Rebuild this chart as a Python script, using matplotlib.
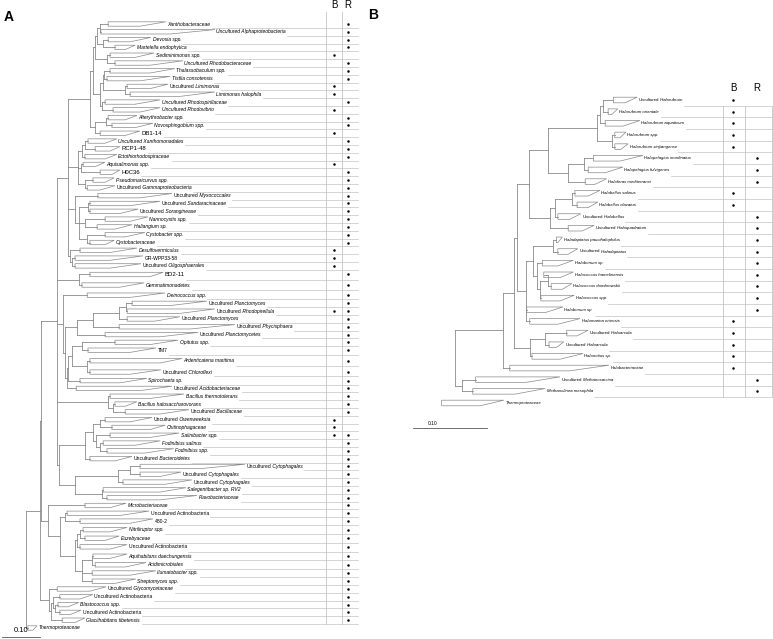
import re
import numpy as np
import matplotlib
matplotlib.use("Agg")
import matplotlib.pyplot as plt
from matplotlib.patches import Polygon

plt.rcParams['font.family'] = ['Liberation Sans', 'DejaVu Sans']

# ---------------- Panel A (Bacteria) ----------------
a_names = [
    "Xanthobacteraceae", "Uncultured Alphaproteobacteria", "Devosia spp.", "Martelella endophytica",
    "Sediminimonas spp.", "Uncultured Rhodobacteraceae", "Thalassobaculum spp.", "Tistlia consotensis",
    "Uncultured Limimonas", "Limimonas halophila", "Uncultured Rhodospirillaceae", "Uncultured Rhodovibrio",
    "Alterythrobacter spp.", "Novosphingobium spp.", "DB1-14", "Uncultured Xanthomonadales",
    "RCP1-48", "Ectothiorhodospiraceae", "Aquisalimonas spp.", "H0C36", "Pseudomaricurvus spp.",
    "Uncultured Gammaproteobacteria", "Uncultured Myxococcales", "Uncultured Sandaracinaceae",
    "Uncultured Soranginease", "Nannocystis spp.", "Haliangium sp.", "Cystobacter spp.",
    "Cystobacteraceae", "Desulfovermiculus", "GR-WPP33-58", "Uncultured Oligosphaerales",
    "BD2-11", "Gemmatimonadetes", "Deinococcus spp.", "Uncultured Planctomyces",
    "Uncultured Rhodopirellula", "Uncultured Planctomyces", "Uncultured Phycisphaera",
    "Uncultured Planctomycetes", "Opitutus spp.", "TM7", "Ardenticatena maritima",
    "Uncultured Chloroflexi", "Spirochaeta sp.", "Uncultured Acidobacteriaceae",
    "Bacillus thermotolerans", "Bacillus halosaccharovorans", "Uncultured Bacillaceae",
    "Uncultured Owenweeksia", "Chitinophagaceae", "Salinibacter spp.", "Fodinibius salinus",
    "Fodinibius spp.", "Uncultured Bacteroidetes", "Uncultured Cytophagales",
    "Uncultured Cytophagales", "Uncultured Cytophagales", "Salegentibacter sp. RV2",
    "Flavobacteriaceae", "Microbacteriaceae", "Uncultured Actinobacteria", "480-2",
    "Nitriliruptor spp.", "Euzebyaceae", "Uncultured Actinobacteria", "Aquihabitans daechungensis",
    "Acidimicrobiales", "Ilumatobacter spp.", "Streptomyces spp.", "Uncultured Glycomycetaceae",
    "Uncultured Actinobacteria", "Blastococcus spp.", "Uncultured Actinobacteria",
    "Glaciihabitans tibetensis", "Thermoproteaceae",
]
# i = italic, u = "Uncultured" upright + italic taxon, n = upright, N = upright larger
a_style = list("iiiiiiii" "uiiiii" "N" "i" "N" "ii" "N" "i" "uuuu" "iiiii" "n" "u" "N" "ii"
               "uuuuu" "i" "n" "i" "u" "i" "u" "ii" "uu" "iiii" "uuuu" "iii" "nn" "ii" "n"
               "iiii" "u" "n" "i" "n" "ii")
a_b = [0, 0, 0, 0, 1, 0, 0, 0, 1, 1, 0, 1, 0, 0, 1, 0, 0, 0, 1, 0, 0, 0, 0, 0, 0, 0, 0, 0, 0, 1,
       1, 1, 0, 0, 0, 0, 1, 0, 0, 0, 0, 0, 0, 0, 0, 0, 0, 0, 0, 1, 1, 1, 0, 0, 0, 0, 0, 0, 0, 0,
       0, 0, 0, 0, 0, 0, 0, 0, 0, 0, 0, 0, 0, 0, 0, 0]
a_r = [1, 1, 1, 1, 0, 1, 1, 1, 0, 0, 1, 0, 1, 1, 0, 1, 1, 1, 0, 1, 1, 1, 1, 1, 1, 1, 1, 1, 1, 0,
       0, 0, 1, 1, 1, 1, 1, 1, 1, 1, 1, 1, 1, 1, 1, 1, 1, 1, 1, 0, 0, 1, 1, 1, 1, 1, 1, 1, 1, 1,
       1, 1, 1, 1, 1, 1, 1, 1, 1, 1, 1, 1, 1, 1, 1, 0]
# collapsed clades: depth of clade root, shortest tip, longest tip (substitutions/site)
a_base = [0.216, 0.197, 0.216, 0.234, 0.221, 0.234, 0.221, 0.213, 0.266, 0.274, 0.208, 0.229,
          0.216, 0.226, 0.195, 0.163, 0.182, 0.155, 0.150, 0.195, 0.176, 0.161, 0.189, 0.168,
          0.168, 0.208, 0.187, 0.208, 0.168, 0.142, 0.129, 0.129, 0.168, 0.147, 0.161, 0.279,
          0.266, 0.266, 0.245, 0.208, 0.234, 0.163, 0.168, 0.168, 0.142, 0.132, 0.221, 0.234,
          0.261, 0.208, 0.226, 0.221, 0.203, 0.213, 0.168, 0.300, 0.300, 0.255, 0.203, 0.213,
          0.155, 0.108, 0.142, 0.150, 0.155, 0.142, 0.176, 0.182, 0.174, 0.174, 0.082, 0.089,
          0.084, 0.089, 0.095, 0.005]
a_tmin = [0.300, 0.379, 0.274, 0.261, 0.287, 0.326, 0.326, 0.300, 0.326, 0.405, 0.287, 0.300,
          0.261, 0.287, 0.261, 0.208, 0.221, 0.208, 0.182, 0.226, 0.208, 0.195, 0.300, 0.274,
          0.247, 0.274, 0.234, 0.261, 0.208, 0.221, 0.221, 0.221, 0.326, 0.247, 0.274, 0.379,
          0.405, 0.339, 0.432, 0.353, 0.326, 0.274, 0.353, 0.274, 0.247, 0.300, 0.326, 0.261,
          0.353, 0.274, 0.326, 0.326, 0.287, 0.313, 0.234, 0.458, 0.353, 0.366, 0.353, 0.353,
          0.221, 0.247, 0.274, 0.221, 0.208, 0.221, 0.221, 0.261, 0.274, 0.234, 0.168, 0.142,
          0.111, 0.116, 0.129, 0.018]
a_tmax = [0.368, 0.497, 0.329, 0.287, 0.337, 0.413, 0.392, 0.379, 0.374, 0.497, 0.353, 0.353,
          0.292, 0.334, 0.300, 0.239, 0.247, 0.239, 0.208, 0.247, 0.232, 0.234, 0.384, 0.353,
          0.295, 0.321, 0.279, 0.313, 0.232, 0.292, 0.308, 0.303, 0.361, 0.311, 0.366, 0.476,
          0.497, 0.405, 0.550, 0.453, 0.400, 0.342, 0.411, 0.355, 0.318, 0.384, 0.416, 0.292,
          0.429, 0.332, 0.366, 0.403, 0.353, 0.389, 0.279, 0.576, 0.408, 0.437, 0.421, 0.450,
          0.263, 0.324, 0.334, 0.266, 0.245, 0.266, 0.266, 0.316, 0.342, 0.289, 0.211, 0.176,
          0.139, 0.145, 0.155, 0.029]
a_rowh = [1] * 32 + [1.2, 1.5, 1.1] + [1] * 7 + [1.7, 1.2] + [1] * 19 + [1.2, 1, 1.2, 1.2, 1, 1.1] + [1] * 7
# topology: leaf numbers index the lists above, number after ")" = node depth
a_tree = ("((((((((((0,1)0.195,(2,3)0.203)0.187,(4,5)0.213)0.182,(((6,7)0.205,(8,9)0.261)0.203,"
          "(10,11)0.200)0.195)0.176,((12,13)0.211,14)0.182)0.168,"
          "(((15,16)0.155,17)0.147,(18,19)0.145,(20,21)0.155)0.137,"
          "(22,((23,24)0.163,(25,26)0.155,(27,28)0.161)0.139)0.129,"
          "(29,(30,31)0.121)0.116)0.111,"
          "(32,33)0.139,"
          "(34,(((((35,36)0.263,37)0.245,38)0.176,39)0.134,((((40,41)0.147,(42,43)0.161)0.121,44)0.111,45)0.108)0.103)0.097,"
          "(46,(47,48)0.229)0.216,"
          "((((49,50)0.195,(51,(52,53)0.195)0.184)0.176,54)0.155,(((55,56)0.274,57)0.242,(58,59)0.200)0.129)0.087)0.082,"
          "(60,((61,62)0.103,(((63,64)0.142,65)0.134,((66,67)0.174,68,69)0.147)0.129)0.089)0.058)0.039,"
          "(70,((71,(72,73)0.076)0.071,74)0.066)0.061)0.037,75)0.0")

# ---------------- Panel B (Archaea) ----------------
b_names = [
    "Uncultured Halorubrum", "Halorubrum orientale", "Halorubrum aquaticum", "Halorubrum spp.",
    "Halorubrum xinjiangense", "Halopelagius inordinatus", "Halopelagius fulvigenes",
    "Haloferax mediterranei", "Halobellus salinus", "Halobellus clavatus", "Uncultured Halobellus",
    "Uncultured Haloquadratum", "Haladaptatus paucihalophilus", "Uncultured Haladaptatus",
    "Halobonum sp.", "Halococcus hamelinensis", "Halococcus dombrowskii", "Halococcus spp.",
    "Halobonum sp.", "Halomarina oriensis", "Uncultured Haloarcula", "Uncultured Haloarcula",
    "Halonotius sp.", "Halobacteriaceae", "Uncultured Methanosarcina", "Methanolinea mesophila",
    "Thermoproteaceae",
]
b_style = list("uiiiiiiiii" "uu" "i" "u" "iiiiii" "uu" "ii" "u" "ii")
b_b = [1, 1, 1, 1, 1, 0, 0, 0, 1, 1, 0, 0, 0, 0, 0, 0, 0, 0, 0, 1, 1, 1, 1, 1, 0, 0, 0]
b_r = [0, 0, 0, 0, 0, 1, 1, 1, 0, 0, 1, 1, 1, 1, 1, 1, 1, 1, 1, 0, 0, 0, 0, 0, 1, 1, 0]
b_base = [0.268, 0.261, 0.257, 0.270, 0.270, 0.241, 0.234, 0.230, 0.216, 0.219, 0.193, 0.207,
          0.191, 0.193, 0.172, 0.174, 0.184, 0.170, 0.151, 0.155, 0.205, 0.181, 0.158, 0.128,
          0.082, 0.078, 0.036]
b_tmin = [0.284, 0.266, 0.281, 0.277, 0.278, 0.277, 0.257, 0.243, 0.234, 0.234, 0.209, 0.226,
          0.193, 0.207, 0.193, 0.196, 0.199, 0.196, 0.176, 0.193, 0.219, 0.191, 0.196, 0.209,
          0.149, 0.135, 0.088]
b_tmax = [0.300, 0.274, 0.304, 0.285, 0.288, 0.308, 0.281, 0.259, 0.250, 0.247, 0.224, 0.242,
          0.199, 0.220, 0.214, 0.214, 0.212, 0.215, 0.200, 0.223, 0.234, 0.201, 0.227, 0.262,
          0.196, 0.176, 0.120]
b_rowh = [1] * 27
b_tree = ("(((((((((0,1)0.254,2)0.250,(3,4)0.266)0.246,((5,6)0.228,7)0.207)0.180,"
          "(((8,9)0.212,10)0.189,11)0.182)0.154,"
          "(((12,13)0.186,(14,((15,16)0.180,17)0.169)0.165)0.159,18,19)0.150)0.138,"
          "((20,21)0.176,22)0.155)0.134,23)0.119,(24,25)0.064)0.054,26)0.0")

W, H = 773, 639
TREE_C = "#8a8a8a"
GRID_C = "#c4c4c4"


def parse_tree(s):
    s = s.replace(" ", "")
    pos = 0

    def node():
        nonlocal pos
        if s[pos] == "(":
            pos += 1
            kids = []
            while True:
                kids.append(node())
                ch = s[pos]
                pos += 1
                if ch == ")":
                    break
            m = re.match(r"[0-9.]+", s[pos:])
            pos += m.end()
            return (float(m.group()), kids)
        m = re.match(r"\d+", s[pos:])
        pos += m.end()
        return int(m.group())

    return node()


def draw_clade(ax, n, base, ys):
    if isinstance(n, int):
        return base[n], ys[n]
    d, kids = n
    pts = [draw_clade(ax, k, base, ys) for k in kids]
    for x, y in pts:
        ax.plot([d, x], [y, y], color=TREE_C, lw=0.6)
    ax.plot([d, d], [pts[0][1], pts[-1][1]], color=TREE_C, lw=0.6)
    return d, (pts[0][1] + pts[-1][1]) / 2


def put_label(ax, x, y, name, style, fs):
    if style == "u" and name.startswith("Uncultured "):
        t = ax.text(x, y, "Uncultured", fontsize=fs, va="center", ha="left")
        return ax.annotate(" " + name[11:], xy=(1, 0), xycoords=t, va="bottom", ha="left",
                           fontsize=fs, style="italic")
    if style == "N":
        return ax.text(x, y, name, fontsize=fs * 1.2, va="center", ha="left")
    if style == "n":
        return ax.text(x, y, name, fontsize=fs, va="center", ha="left")
    return ax.text(x, y, name, fontsize=fs, va="center", ha="left", style="italic")


def panel(fig, root_px, px_per_unit, names, styles, bflag, rflag, base, tmin, tmax, rowh,
          tree, y_first, y_last, half_h, fs, cols, right, header_y, col_top, scale_y, scale_x0):
    ax = fig.add_axes([0, 0, 1, 1])
    ax.set_xlim(-root_px / px_per_unit, (W - root_px) / px_per_unit)
    ax.set_ylim(H, 0)
    ax.axis("off")
    h = np.asarray(rowh, float)
    c = np.cumsum(h) - h / 2
    ys = y_first + (c - c[0]) * (y_last - y_first) / (c[-1] - c[0])

    draw_clade(ax, parse_tree(tree), base, ys)
    pad = 1.5 / px_per_unit
    labels = []
    for i, nm in enumerate(names):
        y = ys[i]
        ax.add_patch(Polygon([(base[i], y - half_h), (tmax[i], y - half_h),
                              (tmin[i], y + half_h), (base[i], y + half_h)],
                             closed=True, fill=False, edgecolor=TREE_C, lw=0.5))
        labels.append(put_label(ax, tmax[i] + pad, y, nm, styles[i], fs))
        if bflag[i]:
            ax.plot(cols[1], y, "o", color="black", ms=1.8, mew=0)
        if rflag[i]:
            ax.plot(cols[3], y, "o", color="black", ms=1.8, mew=0)

    ax.text(cols[1], header_y, "B", fontsize=7, ha="center", va="center")
    ax.text(cols[3], header_y, "R", fontsize=7, ha="center", va="center")

    fig.canvas.draw()
    inv = ax.transData.inverted()
    seps = []
    for i in range(len(names) - 1):
        ysep = (ys[i] + ys[i + 1]) / 2
        xe = inv.transform((labels[i].get_window_extent().x1, 0))[0]
        ax.plot([xe + pad, right], [ysep, ysep], color=GRID_C, lw=0.5)
        seps.append(ysep)
    top = col_top if col_top is not None else seps[0]
    for x in (cols[0], cols[2]):
        ax.plot([x, x], [top, seps[-1]], color=GRID_C, lw=0.6)

    # scale bar
    ax.plot([scale_x0, scale_x0 + 0.10], [scale_y, scale_y], color="#555555", lw=0.6)
    return ax, ys, seps


fig = plt.figure(figsize=(W / 100, H / 100), dpi=100)

# panel A: root at x=26 px, 380 px per substitution/site
axA, ysA, sepA = panel(fig, 26, 380, a_names, a_style, a_b, a_r, a_base, a_tmin, a_tmax, a_rowh,
                       a_tree, 24, 628, 2.2, 3.6, (0.789, 0.811, 0.832, 0.847), 0.874,
                       5, 12, 637, -0.063)
axA.text(-0.063 + 0.05, 634, "0.10", fontsize=5.5, ha="center", va="bottom")

# panel B: root at x=415 px, 740 px per substitution/site
axB, ysB, sepB = panel(fig, 415, 740, b_names, b_style, b_b, b_r, b_base, b_tmin, b_tmax, b_rowh,
                       b_tree, 100, 403, 2.8, 3.1, (0.416, 0.430, 0.446, 0.462), 0.482,
                       88, None, 428, -0.003)
axB.text(0.024, 426, "0.10", fontsize=3.5, ha="center", va="bottom")
axB.plot([0.482, 0.482], [sepB[0], sepB[-1]], color=GRID_C, lw=0.6)

fig.text(9 / W, 1 - 17 / H, "A", fontsize=10, fontweight="bold", ha="center", va="center")
fig.text(373 / W, 1 - 15 / H, "B", fontsize=10, fontweight="bold", ha="center", va="center")

fig.savefig("out.png", dpi=100)
